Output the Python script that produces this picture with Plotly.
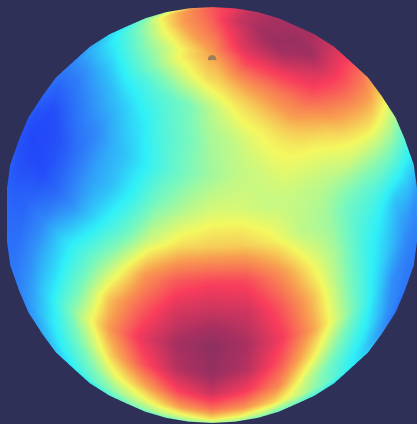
import numpy as np
import plotly.graph_objects as go

# Colour-scale values, on a lat/lon grid (10 degree steps)
latitudes = list(range(90, -100, -10))
longitudes = list(range(0, 370, 10))
row_p90 = [6.6]*36
row_p80 = [6.0,6.1,6.3,6.6,6.9,7.2,7.5,7.8,8.0,8.2,8.4,8.5,8.5,8.4,8.2,8.0,7.7,7.4,7.2,7.0,6.8,6.6,6.3,6.0,5.8,5.5,5.5,5.5,5.5,5.4,5.4,5.4,5.5,5.6,5.7,5.9]
row_p70 = [5.0,5.4,5.8,6.1,6.5,6.9,7.3,7.8,8.2,8.8,9.2,9.5,9.6,9.5,9.3,9.0,8.7,8.1,7.5,7.1,6.8,6.3,5.7,5.2,4.7,4.4,4.1,3.9,3.8,3.6,3.6,3.7,3.8,4.0,4.2,4.6]
row_p60 = [4.8,5.0,5.4,5.7,6.1,6.6,7.0,7.5,8.0,8.4,9.0,9.5,9.6,9.5,9.4,9.2,8.9,8.1,7.6,7.0,6.4,5.6,4.6,3.9,3.3,2.9,2.5,2.3,2.2,2.3,2.4,2.7,3.0,3.5,3.9,4.3]
row_p50 = [4.7,5.0,5.2,5.5,5.6,5.7,6.0,6.5,6.9,7.4,7.8,8.2,8.8,9.2,9.4,9.3,8.9,8.4,7.6,6.4,5.2,4.2,3.2,2.7,2.3,1.8,1.4,1.3,1.3,1.4,1.5,2.0,2.4,3.0,3.7,4.3]
row_p40 = [5.3,5.3,5.1,5.1,5.0,5.0,5.2,5.4,5.8,6.2,6.7,7.2,7.9,8.7,9.2,9.3,8.8,8.2,7.5,6.2,5.0,4.0,3.0,1.9,1.5,1.1,0.7,0.4,0.4,0.6,1.1,1.8,2.3,3.2,4.3,4.9]
row_p30 = [6.1,6.1,5.7,5.0,4.7,4.0,3.8,4.0,4.3,4.7,5.2,6.0,6.8,7.9,9.0,9.4,8.9,8.2,7.5,6.3,5.0,3.8,2.8,2.0,1.2,0.8,0.5,0.3,0.3,0.4,0.9,1.7,2.8,3.9,5.2,5.9]
row_p20 = [7.9,7.8,6.9,5.7,4.7,3.5,2.9,2.3,2.6,3.0,3.8,4.8,5.8,7.0,8.0,8.8,9.0,8.5,8.0,6.6,5.2,4.0,3.0,2.2,1.5,0.6,0.5,0.5,0.6,0.9,1.5,2.6,3.7,5.1,6.7,7.6]
row_p10 = [8.9,8.7,7.6,6.2,4.6,3.2,2.3,1.7,1.6,1.8,2.6,4.0,5.2,6.6,7.8,8.5,8.8,8.6,8.0,6.5,5.0,3.8,2.8,2.0,1.2,0.8,0.8,0.8,0.9,1.0,1.7,2.7,4.2,6.2,7.5,8.6]
row_000 = [9.9,9.2,8.0,6.4,4.7,3.0,1.6,1.3,1.3,1.5,3.0,4.5,5.6,6.6,7.5,8.0,8.4,8.4,8.0,6.6,5.0,3.8,2.8,2.0,1.2,1.0,1.0,1.0,1.0,1.2,1.8,3.0,4.8,6.6,8.2,9.3]
row_m10 = [9.7,9.0,7.5,5.7,4.0,2.8,1.6,1.2,1.2,1.4,2.8,4.0,5.0,6.0,7.0,7.5,7.9,7.9,7.5,6.2,4.8,3.8,2.8,2.2,1.6,1.3,1.2,1.2,1.2,1.4,2.0,3.0,4.3,6.0,7.6,9.0]
row_m20 = [8.7,8.0,6.9,5.0,3.7,2.7,1.7,1.1,1.1,1.4,2.6,3.6,4.4,5.2,6.2,6.7,7.0,7.0,6.8,5.8,4.8,3.8,2.9,2.3,1.9,1.6,1.5,1.5,1.5,1.6,2.1,3.0,4.0,5.4,6.5,7.9]
row_m30 = [7.2,6.8,6.0,5.0,4.0,3.0,2.6,1.8,1.5,1.6,2.2,2.8,3.4,4.2,4.9,5.5,5.9,6.0,6.0,5.2,4.5,3.8,3.1,2.7,2.4,2.2,2.1,2.0,2.0,2.0,2.5,3.0,4.0,4.8,5.6,6.6]
row_m40 = [5.8,5.4,4.8,4.2,3.6,3.1,2.6,2.3,2.2,2.2,2.5,2.9,3.2,3.9,4.5,5.0,5.3,5.4,5.4,5.0,4.6,4.2,3.6,3.2,3.0,2.8,2.7,2.7,2.7,2.8,2.9,3.1,3.6,4.3,4.8,5.2]
row_m50 = [4.8,4.7,4.4,4.1,3.7,3.4,3.1,2.9,2.9,3.0,3.2,3.5,3.6,4.1,4.5,4.7,4.9,5.0,5.0,4.8,4.5,4.2,3.9,3.6,3.4,3.3,3.2,3.2,3.2,3.2,3.3,3.4,3.6,3.8,4.2,4.5]
row_m60 = [4.5,4.5,4.4,4.2,4.1,4.0,3.8,3.7,3.7,3.7,3.8,3.9,4.0,4.2,4.3,4.5,4.6,4.7,4.8,4.7,4.6,4.5,4.3,4.2,4.1,4.0,3.9,3.8,3.8,3.8,3.8,3.9,4.0,4.1,4.2,4.4]
row_m70 = [4.6]*36
row_m80 = [4.7]*36
row_m90 = [4.7]*36

value_rows = [row_p90,row_p80,row_p70,row_p60,row_p50,row_p40,row_p30,row_p20,row_p10,row_000,
              row_m10,row_m20,row_m30,row_m40,row_m50,row_m60,row_m70,row_m80,row_m90]

# position of the small dark smudge near the pole
smudge_lat = [87.5]
smudge_lon = [0]

colours = [[0.0,"#2038f8"],[0.15,"#3088f8"],[0.30,"#30f0f8"],[0.43,"#80f8b8"],[0.56,"#f4f860"],
           [0.66,"#f8a050"],[0.80,"#f83c5c"],[0.93,"#a83060"],[1.0,"#8a3060"]]
background = "#2e3058"

def sphere(lat_deg, lon_deg):
    la = np.radians(lat_deg)
    lo = np.radians(lon_deg)
    return np.cos(la) * np.sin(lo), -np.cos(la) * np.cos(lo), np.sin(la) * np.ones_like(lo)

values = np.array([r + r[:1] for r in value_rows])
x, y, z = sphere(np.array(latitudes, dtype=float)[:, None], np.array(longitudes, dtype=float)[None, :])

fig = go.Figure(go.Surface(
    x=x, y=y, z=z, surfacecolor=values, cmin=0, cmax=10, colorscale=colours,
    showscale=False, hoverinfo="skip",
    lighting=dict(ambient=1, diffuse=0, specular=0, roughness=1, fresnel=0),
))
sx, sy, sz = sphere(np.array(smudge_lat), np.array(smudge_lon, dtype=float))
fig.add_trace(go.Scatter3d(
    x=sx, y=sy, z=sz, mode="markers", hoverinfo="skip",
    marker=dict(size=5, color="#a08058", line=dict(width=0)),
))
hidden = dict(visible=False, range=[-1.02, 1.02])
elev = np.radians(39)
d = 1.56
fig.update_layout(
    width=417, height=424, margin=dict(l=0, r=0, t=0, b=0),
    paper_bgcolor=background, showlegend=False,
    scene=dict(
        xaxis=hidden, yaxis=hidden, zaxis=hidden, bgcolor=background,
        aspectmode="manual", aspectratio=dict(x=2.03, y=2.03, z=2.03),
        domain=dict(x=[0.017, 1], y=[0, 0.986]),
        camera=dict(projection=dict(type="orthographic"),
                    eye=dict(x=0, y=-d*np.cos(elev), z=d*np.sin(elev)),
                    up=dict(x=0, y=0, z=1),
                    center=dict(x=0, y=0, z=0)),
    ),
)
fig.write_html("out.html", config={"displayModeBar": False},
               post_script="document.body.style.margin='0';document.body.style.background='%s';document.body.style.overflow='hidden';" % background)
